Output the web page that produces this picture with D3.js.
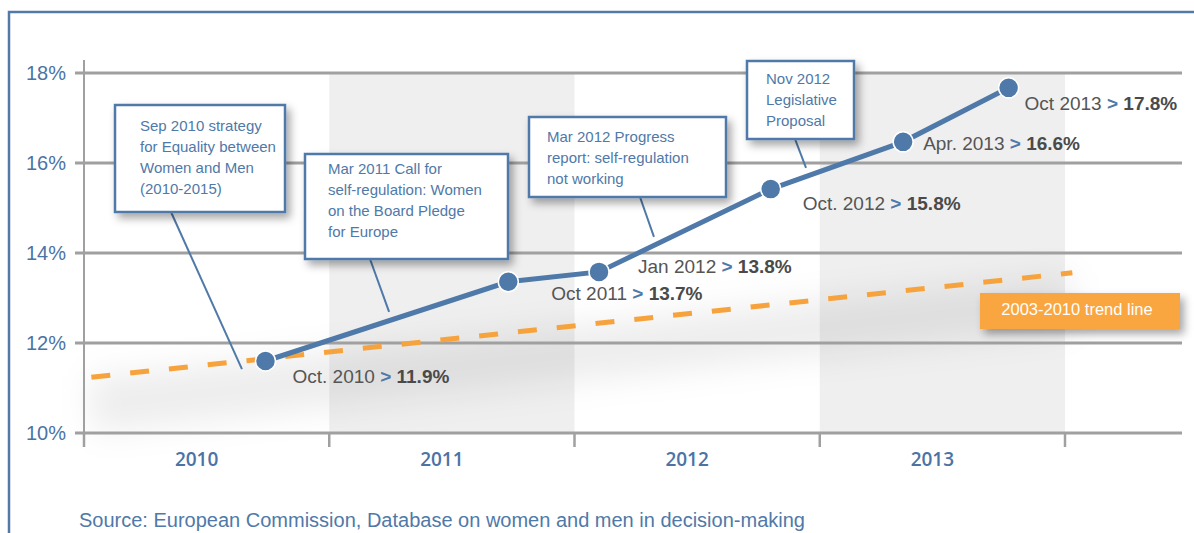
<!DOCTYPE html>
<html>
<head>
<meta charset="utf-8">
<script src="https://cdn.jsdelivr.net/npm/d3@7/dist/d3.min.js"></script>
<style>
  body { margin: 0; background: #fff; }
  text { font-family: "Liberation Sans", Arial, sans-serif; }
</style>
</head>
<body>
<div id="chart"></div>
<script>
// ---- data ----
var years = [2010, 2011, 2012, 2013];
var shadedYears = [2011, 2013];
var yTicks = [10, 12, 14, 16, 18];

// points as drawn (decimal year, share of women in %)
var pointDates = [2010.74, 2011.73, 2012.10, 2012.80, 2013.34, 2013.77];
var pointValues = [11.6, 13.36, 13.58, 15.42, 16.47, 17.67];
var pointLabels = ["Oct. 2010", "Oct 2011", "Jan 2012", "Oct. 2012", "Apr. 2013", "Oct 2013"];
var pointValueLabels = ["11.9%", "13.7%", "13.8%", "15.8%", "16.6%", "17.8%"];

// 2003-2010 trend line, start and end
var trendDates = [2010.03, 2014.03];
var trendValues = [11.24, 13.56];
var trendLabel = "2003-2010 trend line";

var noteTexts = [
  ["Sep 2010 strategy", "for Equality between", "Women and Men", "(2010-2015)"],
  ["Mar 2011 Call for", "self-regulation: Women", "on the Board Pledge", "for Europe"],
  ["Mar 2012 Progress", "report: self-regulation", "not working"],
  ["Nov 2012", "Legislative", "Proposal"]
];
// where each leader line points to
var noteTargetDates = [2010.644, 2011.244, 2012.324, 2012.944];
var noteTargetValues = [11.42, 12.69, 14.36, 15.89];

var source = "Source: European Commission, Database on women and men in decision-making";

// ---- layout ----
var width = 1194, height = 533;
var blue = "#4f79a8", grey = "#a0a0a0";

// box layout (left, top, width, height, text inset x, first baseline, leader x on box)
var noteBoxes = [
  {x: 115, y: 105, w: 170, h: 107, tx: 25, ty: 26, lx: 56},
  {x: 305, y: 154, w: 203, h: 105, tx: 23, ty: 20, lx: 65},
  {x: 529, y: 117, w: 197, h: 80, tx: 18, ty: 25, lx: 111},
  {x: 747, y: 61, w: 107, h: 78, tx: 19, ty: 23, lx: 48}
];
// label offsets from their point
var labelOffsets = [[27, 22], [43, 18], [39, 1], [32, 21], [20, 8], [16, 22]];

var svg = d3.select("#chart").append("svg")
    .attr("width", width)
    .attr("height", height);

var defs = svg.append("defs");
var ds = defs.append("filter").attr("id", "drop")
    .attr("x", "-20%").attr("y", "-20%").attr("width", "150%").attr("height", "160%");
ds.append("feDropShadow").attr("dx", 4).attr("dy", 5).attr("stdDeviation", 4)
    .attr("flood-color", "#000").attr("flood-opacity", 0.35);
var blur = defs.append("filter").attr("id", "blur")
    .attr("x", "-20%").attr("y", "-100%").attr("width", "140%").attr("height", "300%");
blur.append("feGaussianBlur").attr("stdDeviation", 16);

var x = d3.scaleLinear().domain([2010, 2014]).range([84, 1065]);
var y = d3.scaleLinear().domain([10, 18]).range([433, 73]);

// frame
svg.append("path")
    .attr("d", "M9,533 V12 H1194")
    .attr("fill", "none")
    .attr("stroke", "#5379a6")
    .attr("stroke-width", 2.5);

// shaded years
svg.selectAll(".band")
    .data(shadedYears)
  .enter().append("rect")
    .attr("class", "band")
    .attr("x", function(d) { return x(d); })
    .attr("width", function(d) { return x(d + 1) - x(d); })
    .attr("y", y(18))
    .attr("height", y(10) - y(18))
    .attr("fill", "#efefef");

// soft shadow under the trend line
var trend = trendDates.map(function(d, i) { return [d, trendValues[i]]; });
svg.append("path")
    .attr("d", d3.line()
        .x(function(d) { return x(d[0]); })
        .y(function(d) { return y(d[1]) + 28; })(trend))
    .attr("stroke", "#000")
    .attr("stroke-opacity", 0.07)
    .attr("stroke-width", 55)
    .attr("fill", "none")
    .attr("filter", "url(#blur)");

// grid lines
svg.selectAll(".grid")
    .data(yTicks)
  .enter().append("line")
    .attr("class", "grid")
    .attr("x1", 75)
    .attr("x2", 1182)
    .attr("y1", function(d) { return y(d); })
    .attr("y2", function(d) { return y(d); })
    .attr("stroke", grey)
    .attr("stroke-width", 3);

// y axis
svg.append("line")
    .attr("x1", 84).attr("x2", 84)
    .attr("y1", 60).attr("y2", 447)
    .attr("stroke", grey)
    .attr("stroke-width", 2);

svg.selectAll(".ylab")
    .data(yTicks)
  .enter().append("text")
    .attr("class", "ylab")
    .attr("x", 66)
    .attr("y", function(d) { return y(d) + 7; })
    .attr("text-anchor", "end")
    .attr("fill", "#4b73a5")
    .style("font-size", "20px")
    .text(function(d) { return d + "%"; });

// x axis ticks and year labels
svg.selectAll(".xtick")
    .data(years.concat([2014]))
  .enter().append("line")
    .attr("class", "xtick")
    .attr("x1", function(d) { return x(d); })
    .attr("x2", function(d) { return x(d); })
    .attr("y1", y(10))
    .attr("y2", 447)
    .attr("stroke", grey)
    .attr("stroke-width", 2.5);

svg.selectAll(".xlab")
    .data(years)
  .enter().append("text")
    .attr("class", "xlab")
    .attr("x", function(d) { return x(d + 0.5) - 10; })
    .attr("y", 466)
    .attr("text-anchor", "middle")
    .attr("fill", "#4b73a5")
    .style("font-family", "'Open Sans', sans-serif")
    .style("font-weight", 600)
    .style("font-size", "19px")
    .text(function(d) { return d; });

// trend line
svg.append("path")
    .attr("d", d3.line()
        .x(function(d) { return x(d[0]); })
        .y(function(d) { return y(d[1]); })(trend))
    .attr("stroke", "#f7a33d")
    .attr("stroke-width", 5)
    .attr("stroke-dasharray", "19,20")
    .attr("fill", "none");

// trend label box
var tb = svg.append("g").attr("transform", "translate(980,293)");
tb.append("rect")
    .attr("width", 200).attr("height", 36)
    .attr("fill", "#f9a640")
    .attr("filter", "url(#drop)");
tb.append("text")
    .attr("x", 97).attr("y", 22)
    .attr("text-anchor", "middle")
    .attr("fill", "#fff")
    .style("font-size", "16.5px")
    .text(trendLabel);

// annotations
noteTexts.forEach(function(lines, i) {
  var b = noteBoxes[i];
  svg.append("line")
      .attr("x1", b.x + b.lx).attr("y1", b.y + b.h)
      .attr("x2", x(noteTargetDates[i])).attr("y2", y(noteTargetValues[i]))
      .attr("stroke", blue)
      .attr("stroke-width", 2);
  var g = svg.append("g").attr("transform", "translate(" + b.x + "," + b.y + ")");
  g.append("rect")
      .attr("width", b.w).attr("height", b.h)
      .attr("fill", "#fff")
      .attr("stroke", blue)
      .attr("stroke-width", 2.5)
      .attr("filter", "url(#drop)");
  g.selectAll("text")
      .data(lines)
    .enter().append("text")
      .attr("x", b.tx)
      .attr("y", function(d, j) { return b.ty + j * 21; })
      .attr("fill", blue)
      .style("font-size", "15px")
      .text(function(d) { return d; });
});

// main line
var pts = pointDates.map(function(d, i) { return [d, pointValues[i]]; });
svg.append("path")
    .attr("d", d3.line()
        .x(function(d) { return x(d[0]); })
        .y(function(d) { return y(d[1]); })(pts))
    .attr("stroke", blue)
    .attr("stroke-width", 5)
    .attr("fill", "none");

svg.selectAll(".dot")
    .data(pts)
  .enter().append("circle")
    .attr("class", "dot")
    .attr("cx", function(d) { return x(d[0]); })
    .attr("cy", function(d) { return y(d[1]); })
    .attr("r", 10)
    .attr("fill", blue)
    .attr("stroke", "#fff")
    .attr("stroke-width", 1.5);

// point labels
var lab = svg.selectAll(".plab")
    .data(pts)
  .enter().append("text")
    .attr("class", "plab")
    .attr("x", function(d, i) { return x(d[0]) + labelOffsets[i][0]; })
    .attr("y", function(d, i) { return y(d[1]) + labelOffsets[i][1]; })
    .style("font-size", "19px");
lab.append("tspan")
    .attr("fill", "#555")
    .text(function(d, i) { return pointLabels[i] + " "; });
lab.append("tspan")
    .attr("fill", blue)
    .style("font-weight", "bold")
    .text("> ");
lab.append("tspan")
    .attr("fill", "#4a4a4a")
    .style("font-weight", "bold")
    .text(function(d, i) { return pointValueLabels[i]; });

// source
svg.append("text")
    .attr("x", 79)
    .attr("y", 527)
    .attr("fill", blue)
    .style("font-size", "20px")
    .text(source);
</script>
</body>
</html>
